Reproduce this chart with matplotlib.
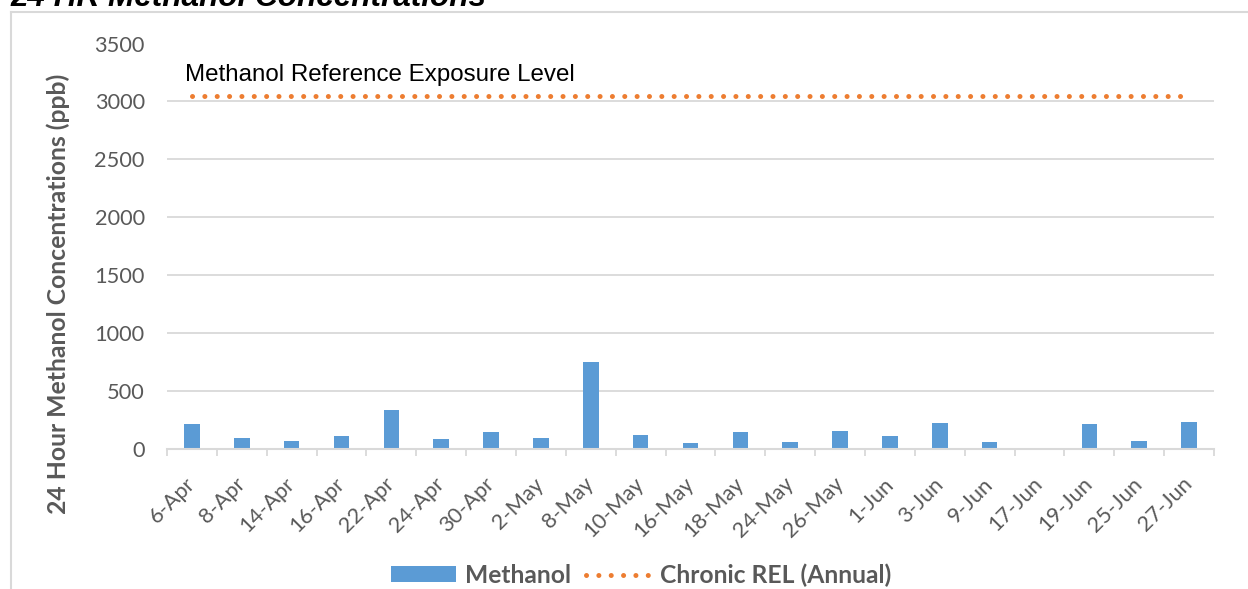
import matplotlib
matplotlib.use("Agg")
import matplotlib.pyplot as plt
from matplotlib.font_manager import FontProperties
from matplotlib.textpath import TextPath
from matplotlib.patches import Patch
from matplotlib.lines import Line2D
import numpy as np

# ---------------- data ----------------
dates = ['6-Apr', '8-Apr', '14-Apr', '16-Apr', '22-Apr', '24-Apr', '30-Apr',
         '2-May', '8-May', '10-May', '16-May', '18-May', '24-May', '26-May',
         '1-Jun', '3-Jun', '9-Jun', '17-Jun', '19-Jun', '25-Jun', '27-Jun']
methanol = [218, 96, 67, 108, 340, 84, 148, 99, 752, 119, 52, 148, 61, 154,
            110, 224, 61, 0, 215, 70, 233]
chronic_rel = [3050, 3050, 3050, 3050, 3050, 3050, 3050, 3050, 3050, 3050, 3050,
               3050, 3050, 3050, 3050, 3050, 3050, 3050, 3050, 3050, 3050]
y_ticks = [0, 500, 1000, 1500, 2000, 2500, 3000, 3500]

title = '24 HR Methanol Concentrations'
annotation = 'Methanol Reference Exposure Level'
y_label = '24 Hour Methanol Concentrations (ppb)'
legend_labels = ['Methanol', 'Chronic REL (Annual)']

# ---------------- style ----------------
W, H, DPI = 1248, 589, 100
BLUE = '#5B9BD5'
ORANGE = '#ED7D31'
GREY_TXT = '#595959'
GRID = '#D9D9D9'
UI = 'Lato'
ARIAL = 'Liberation Sans'


def fit_size(s, target_px, **kw):
    fp = FontProperties(**kw)
    w = TextPath((0, 0), s, size=100, prop=fp).get_extents().width / 100.0
    return target_px / (DPI / 72.0) / w


fs_tick = fit_size('3500', 49, family=UI)
fs_ylab = fit_size(y_label, 440, family=UI, weight='bold')
fs_leg = fit_size(legend_labels[1], 229, family=UI, weight='bold')
fs_ann = fit_size(annotation, 387, family=ARIAL)
fs_title = fit_size(title, 475, family=ARIAL, weight='bold', style='italic')

fig = plt.figure(figsize=(W / DPI, H / DPI), dpi=DPI)
fig.patch.set_facecolor('white')

# chart border (top and left edges visible)
fig.add_artist(Line2D([10.5 / W, 10.5 / W], [1 - 11.5 / H, 0], color=GRID, lw=1.5,
                      transform=fig.transFigure))
fig.add_artist(Line2D([10.5 / W, 1], [1 - 11.5 / H, 1 - 11.5 / H], color=GRID, lw=1.5,
                      transform=fig.transFigure))

x_left, x_right, y_top, y_bot = 167, 1214, 43.5, 449
ax = fig.add_axes([x_left / W, 1 - y_bot / H, (x_right - x_left) / W, (y_bot - y_top) / H])

x = np.arange(len(dates))
ax.bar(x, methanol, width=0.31, color=BLUE, zorder=3)
ax.plot(x, chronic_rel, color=ORANGE, lw=3.6, linestyle=(0, (0.01, 2.46)),
        dash_capstyle='round', zorder=4)

ax.set_xlim(-0.5, len(dates) - 0.5)
ax.set_ylim(0, 3500)
ax.set_yticks(y_ticks)
ax.set_yticklabels([str(v) for v in y_ticks], fontsize=fs_tick, family=UI, color=GREY_TXT)
ax.tick_params(axis='y', length=0, pad=16)
ax.grid(axis='y', color=GRID, lw=1.3, zorder=0)

ax.set_xticks(np.arange(len(dates) + 1) - 0.5)
ax.set_xticklabels([])
ax.tick_params(axis='x', which='major', length=5, width=1.3, color=GRID, direction='out')
ax.set_xticks(x, minor=True)
ax.set_xticklabels(dates, minor=True, rotation=45, ha='right', va='center',
                   rotation_mode='anchor', fontsize=fs_tick, family=UI, color=GREY_TXT)
ax.tick_params(axis='x', which='minor', length=0, pad=23)

for s in ['top', 'right', 'left']:
    ax.spines[s].set_visible(False)
ax.spines['bottom'].set_color(GRID)
ax.spines['bottom'].set_linewidth(1.5)
ax.spines['bottom'].set_zorder(5)

# texts
fig.text(10 / W, 1 - 6 / H, title, ha='left', va='baseline', fontsize=fs_title,
         family=ARIAL, weight='bold', style='italic', color='black')
fig.text(185 / W, 1 - 81.5 / H, annotation, ha='left', va='baseline', fontsize=fs_ann,
         family=ARIAL, color='black')
fig.text(58 / W, 1 - 294 / H, y_label, ha='center', va='center', rotation=90,
         fontsize=fs_ylab, family=UI, weight='bold', color=GREY_TXT)

handles = [Patch(facecolor=BLUE, edgecolor='none'),
           Line2D([0], [0], color=ORANGE, lw=3.6, linestyle=(0, (0.01, 2.46)),
                  dash_capstyle='round')]
leg = fig.legend(handles, legend_labels, loc='center', bbox_to_anchor=(641 / W, 1 - 575 / H),
                 ncol=2, frameon=False, handlelength=2.65, handleheight=0.6,
                 handletextpad=0.35, columnspacing=0.6,
                 prop=FontProperties(family=UI, weight='bold', size=fs_leg))
for t in leg.get_texts():
    t.set_color(GREY_TXT)

fig.savefig('out.png', dpi=DPI, facecolor='white')
